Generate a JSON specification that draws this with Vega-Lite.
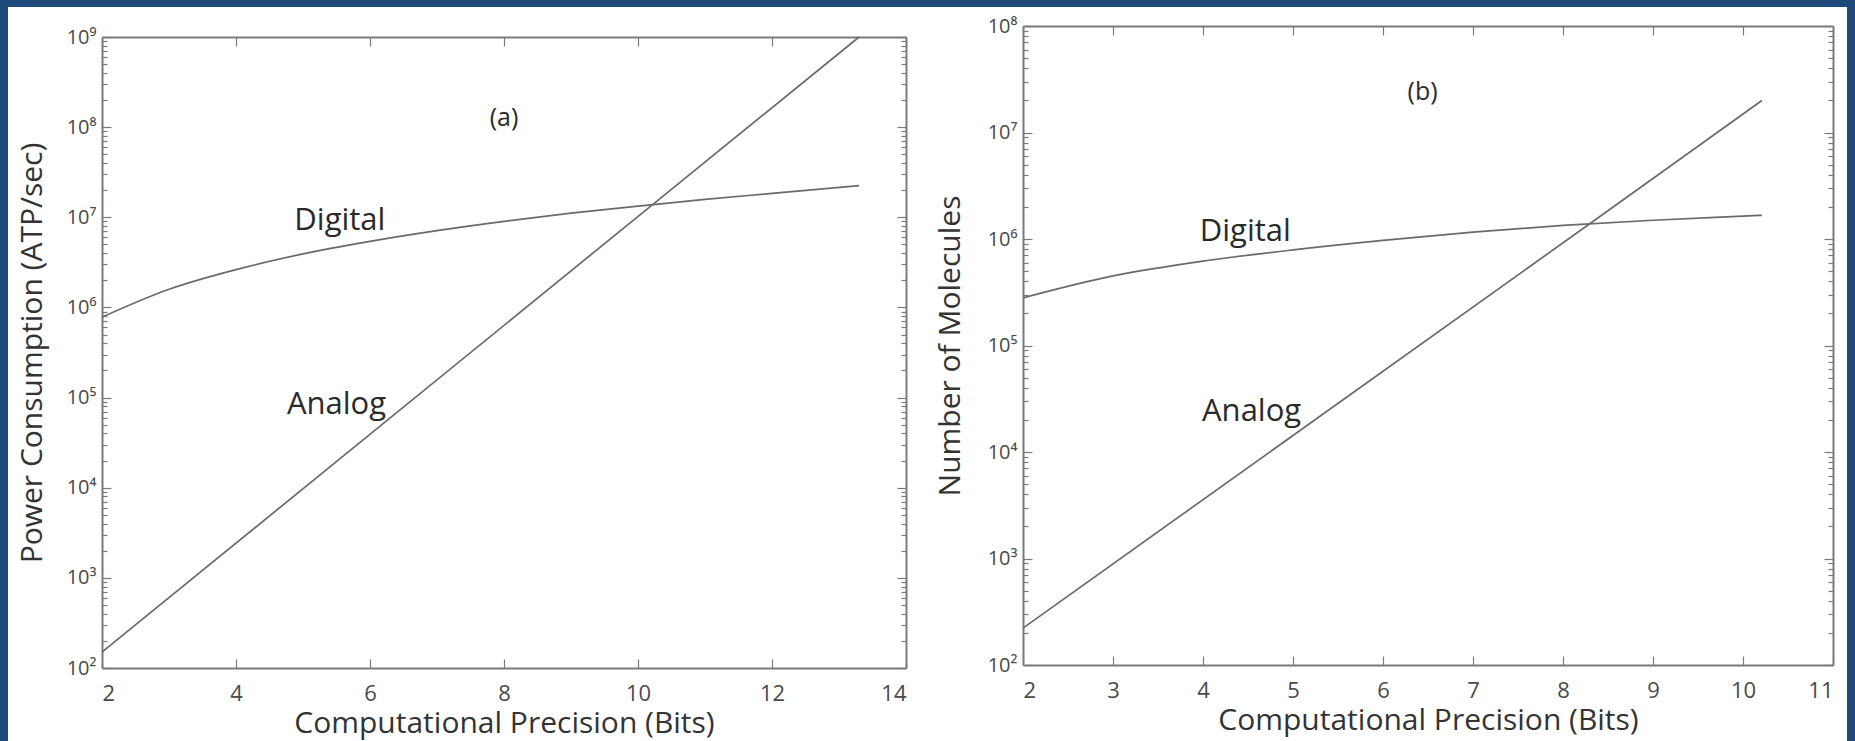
{
  "$schema": "https://vega.github.io/schema/vega-lite/v6.json",
  "background": "#1e4a7b",
  "padding": {"left": 8, "top": 7, "right": 8, "bottom": 0},
  "spacing": 0,
  "config": {
    "view": {"fill": "white", "stroke": null},
    "font": "Open Sans",
    "axis": {
      "grid": false,
      "domainColor": "#7a7a7a",
      "domainWidth": 2,
      "tickColor": "#7a7a7a",
      "tickWidth": 1.2,
      "labelColor": "#4a4a4a",
      "labelFont": "Open Sans",
      "titleColor": "#333333",
      "titleFont": "Open Sans",
      "titleFontWeight": "normal",
      "labelFontSize": 20,
      "titleFontSize": 30
    }
  },
  "datasets": {
    "a_lines": [
      {"series": "Analog", "bits": 2, "value": 150},
      {"series": "Analog", "bits": 10.2, "value": 13500000},
      {"series": "Analog", "bits": 13.3, "value": 1000000000},
      {"series": "Digital", "bits": 2, "value": 780000},
      {"series": "Digital", "bits": 3, "value": 1590000},
      {"series": "Digital", "bits": 4, "value": 2630000},
      {"series": "Digital", "bits": 5, "value": 3920000},
      {"series": "Digital", "bits": 6, "value": 5400000},
      {"series": "Digital", "bits": 7, "value": 7100000},
      {"series": "Digital", "bits": 8, "value": 9000000},
      {"series": "Digital", "bits": 9, "value": 11100000},
      {"series": "Digital", "bits": 10, "value": 13300000},
      {"series": "Digital", "bits": 11, "value": 15800000},
      {"series": "Digital", "bits": 12, "value": 18400000},
      {"series": "Digital", "bits": 13.3, "value": 22500000}
    ],
    "a_text": [
      {"label": "(a)", "bits": 8, "value": 126000000},
      {"label": "Digital", "bits": 5.55, "value": 9000000},
      {"label": "Analog", "bits": 5.5, "value": 83000}
    ],
    "b_lines": [
      {"series": "Analog", "bits": 2, "value": 222},
      {"series": "Analog", "bits": 8.27, "value": 1340000},
      {"series": "Analog", "bits": 10.21, "value": 20000000},
      {"series": "Digital", "bits": 2, "value": 280000},
      {"series": "Digital", "bits": 3, "value": 450000},
      {"series": "Digital", "bits": 4, "value": 620000},
      {"series": "Digital", "bits": 5, "value": 790000},
      {"series": "Digital", "bits": 6, "value": 970000},
      {"series": "Digital", "bits": 7, "value": 1160000},
      {"series": "Digital", "bits": 8, "value": 1340000},
      {"series": "Digital", "bits": 9, "value": 1500000},
      {"series": "Digital", "bits": 10, "value": 1640000},
      {"series": "Digital", "bits": 10.21, "value": 1670000}
    ],
    "b_text": [
      {"label": "(b)", "bits": 6.44, "value": 24000000},
      {"label": "Digital", "bits": 4.47, "value": 1170000},
      {"label": "Analog", "bits": 4.54, "value": 24000}
    ]
  },
  "hconcat": [
    {
      "width": 922,
      "height": 734,
      "layer": [
        {
          "data": {"name": "a_lines"},
          "mark": {"type": "line", "interpolate": "monotone", "color": "#6a6a6a", "strokeWidth": 1.7},
          "encoding": {
            "x": {
              "field": "bits", "type": "quantitative",
              "scale": {"domain": [2, 14], "range": [94, 898], "nice": false, "zero": false},
              "axis": {"orient": "bottom", "offset": -73, "values": [2, 4, 6, 8, 10, 12, 14], "tickSize": -9, "labelPadding": 24, "labelFontSize": 22, "title": "Computational Precision (Bits)", "titlePadding": 4}
            },
            "y": {
              "field": "value", "type": "quantitative",
              "scale": {"type": "log", "domain": [100, 1000000000], "range": [661, 30], "nice": false},
              "axis": {"orient": "left", "offset": -94, "values": [100, 1000, 10000, 100000, 1000000, 10000000, 100000000, 1000000000], "tickSize": -9, "labelPadding": 15, "labelExpr": "'10' + substring('⁰¹²³⁴⁵⁶⁷⁸⁹', round(log(datum.value)/LN10), round(log(datum.value)/LN10)+1)", "title": "Power Consumption (ATP/sec)", "titlePadding": 19}
            },
            "detail": {"field": "series"}
          }
        },
        {
          "data": {"name": "a_text"},
          "mark": {"type": "text", "color": "#2a2a2a"},
          "encoding": {
            "x": {"field": "bits", "type": "quantitative", "axis": {"orient": "top", "offset": -30, "values": [2, 4, 6, 8, 10, 12, 14], "tickSize": -9, "labels": false, "title": null}},
            "y": {"field": "value", "type": "quantitative", "axis": {"orient": "right", "offset": -24, "values": [100, 1000, 10000, 100000, 1000000, 10000000, 100000000, 1000000000], "tickSize": -9, "labels": false, "title": null}},
            "text": {"field": "label"},
            "size": {"condition": {"test": "datum.label == '(a)'", "value": 25}, "value": 31}
          }
        },
        {
          "data": {"name": "a_lines"},
          "mark": {"type": "point", "opacity": 0},
          "encoding": {
            "x": {"field": "bits", "type": "quantitative", "axis": null},
            "y": {"field": "value", "type": "quantitative", "axis": {"orient": "left", "offset": -94, "domain": false, "labels": false, "title": null, "tickSize": -5, "values": [2e2,3e2,4e2,5e2,6e2,7e2,8e2,9e2,2e3,3e3,4e3,5e3,6e3,7e3,8e3,9e3,2e4,3e4,4e4,5e4,6e4,7e4,8e4,9e4,2e5,3e5,4e5,5e5,6e5,7e5,8e5,9e5,2e6,3e6,4e6,5e6,6e6,7e6,8e6,9e6,2e7,3e7,4e7,5e7,6e7,7e7,8e7,9e7,2e8,3e8,4e8,5e8,6e8,7e8,8e8,9e8]}}
          }
        },
        {
          "data": {"name": "a_lines"},
          "mark": {"type": "point", "opacity": 0},
          "encoding": {
            "x": {"field": "bits", "type": "quantitative", "axis": null},
            "y": {"field": "value", "type": "quantitative", "axis": {"orient": "right", "offset": -24, "domain": false, "labels": false, "title": null, "tickSize": -5, "values": [2e2,3e2,4e2,5e2,6e2,7e2,8e2,9e2,2e3,3e3,4e3,5e3,6e3,7e3,8e3,9e3,2e4,3e4,4e4,5e4,6e4,7e4,8e4,9e4,2e5,3e5,4e5,5e5,6e5,7e5,8e5,9e5,2e6,3e6,4e6,5e6,6e6,7e6,8e6,9e6,2e7,3e7,4e7,5e7,6e7,7e7,8e7,9e7,2e8,3e8,4e8,5e8,6e8,7e8,8e8,9e8]}}
          }
        }
      ],
      "resolve": {"axis": {"x": "independent", "y": "independent"}}
    },
    {
      "width": 917,
      "height": 734,
      "layer": [
        {
          "data": {"name": "b_lines"},
          "mark": {"type": "line", "interpolate": "monotone", "color": "#6a6a6a", "strokeWidth": 1.7},
          "encoding": {
            "x": {
              "field": "bits", "type": "quantitative",
              "scale": {"domain": [2, 11], "range": [93, 903], "nice": false, "zero": false},
              "axis": {"orient": "bottom", "offset": -76, "values": [2, 3, 4, 5, 6, 7, 8, 9, 10, 11], "tickSize": -9, "labelPadding": 24, "labelFontSize": 22, "title": "Computational Precision (Bits)", "titlePadding": 4}
            },
            "y": {
              "field": "value", "type": "quantitative",
              "scale": {"type": "log", "domain": [100, 100000000], "range": [658, 19], "nice": false},
              "axis": {"orient": "left", "offset": -93, "values": [100, 1000, 10000, 100000, 1000000, 10000000, 100000000], "tickSize": -9, "labelPadding": 15, "labelExpr": "'10' + substring('⁰¹²³⁴⁵⁶⁷⁸⁹', round(log(datum.value)/LN10), round(log(datum.value)/LN10)+1)", "title": "Number of Molecules", "titlePadding": 22}
            },
            "detail": {"field": "series"}
          }
        },
        {
          "data": {"name": "b_text"},
          "mark": {"type": "text", "color": "#2a2a2a"},
          "encoding": {
            "x": {"field": "bits", "type": "quantitative", "axis": {"orient": "top", "offset": -19, "values": [2, 3, 4, 5, 6, 7, 8, 9, 10, 11], "tickSize": -9, "labels": false, "title": null}},
            "y": {"field": "value", "type": "quantitative", "axis": {"orient": "right", "offset": -14, "values": [100, 1000, 10000, 100000, 1000000, 10000000, 100000000], "tickSize": -9, "labels": false, "title": null}},
            "text": {"field": "label"},
            "size": {"condition": {"test": "datum.label == '(b)'", "value": 25}, "value": 31}
          }
        },
        {
          "data": {"name": "b_lines"},
          "mark": {"type": "point", "opacity": 0},
          "encoding": {
            "x": {"field": "bits", "type": "quantitative", "axis": null},
            "y": {"field": "value", "type": "quantitative", "axis": {"orient": "left", "offset": -93, "domain": false, "labels": false, "title": null, "tickSize": -5, "values": [2e2,3e2,4e2,5e2,6e2,7e2,8e2,9e2,2e3,3e3,4e3,5e3,6e3,7e3,8e3,9e3,2e4,3e4,4e4,5e4,6e4,7e4,8e4,9e4,2e5,3e5,4e5,5e5,6e5,7e5,8e5,9e5,2e6,3e6,4e6,5e6,6e6,7e6,8e6,9e6,2e7,3e7,4e7,5e7,6e7,7e7,8e7,9e7]}}
          }
        },
        {
          "data": {"name": "b_lines"},
          "mark": {"type": "point", "opacity": 0},
          "encoding": {
            "x": {"field": "bits", "type": "quantitative", "axis": null},
            "y": {"field": "value", "type": "quantitative", "axis": {"orient": "right", "offset": -14, "domain": false, "labels": false, "title": null, "tickSize": -5, "values": [2e2,3e2,4e2,5e2,6e2,7e2,8e2,9e2,2e3,3e3,4e3,5e3,6e3,7e3,8e3,9e3,2e4,3e4,4e4,5e4,6e4,7e4,8e4,9e4,2e5,3e5,4e5,5e5,6e5,7e5,8e5,9e5,2e6,3e6,4e6,5e6,6e6,7e6,8e6,9e6,2e7,3e7,4e7,5e7,6e7,7e7,8e7,9e7]}}
          }
        }
      ],
      "resolve": {"axis": {"x": "independent", "y": "independent"}}
    }
  ]
}
